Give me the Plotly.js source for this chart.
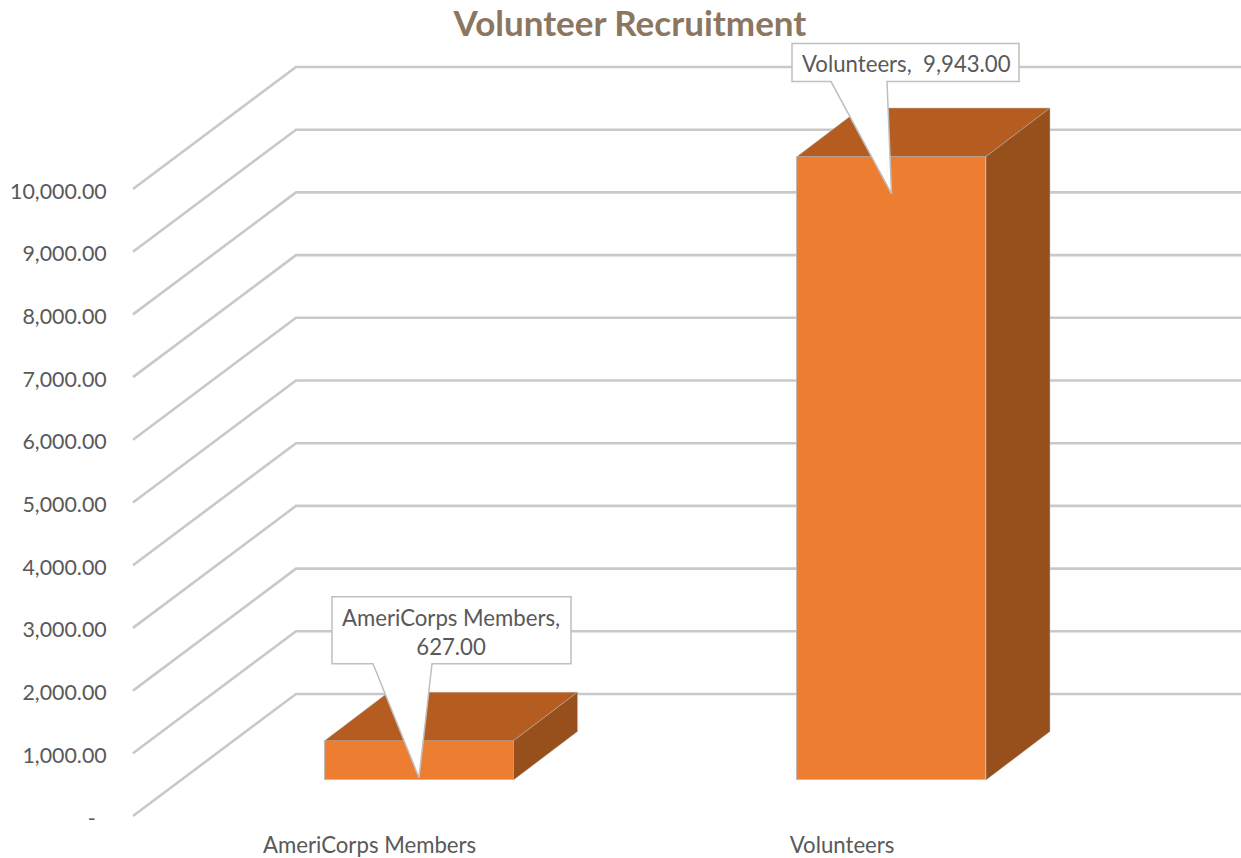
<!DOCTYPE html>
<html>
<head>
<meta charset="utf-8">
<script src="https://cdn.plot.ly/plotly-3.0.1.min.js"></script>
<style>html,body{margin:0;padding:0;background:#fff;overflow:hidden}#chart{width:1241px;height:858px}</style>
</head>
<body>
<div id="chart"></div>
<script>
// Chart data
const categories = ['AmeriCorps Members', 'Volunteers'];
const values = [627, 9943];
const tickValues = [0, 1000, 2000, 3000, 4000, 5000, 6000, 7000, 8000, 9000, 10000];
const tickLabels = ['-\u00A0\u00A0', '1,000.00', '2,000.00', '3,000.00', '4,000.00', '5,000.00',
  '6,000.00', '7,000.00', '8,000.00', '9,000.00', '10,000.00'];

// Oblique projection of the 3-D column chart, in axis units
const PX_X = 472.5;          // pixels per category
const PX_Y = 0.0627;         // pixels per value unit
const xRange = [-(369.6 - 120) / PX_X, (1241 - 369.6) / PX_X];
const yRange = [-8 / PX_Y, 786 / PX_Y];
const WALL_DX = 163 / PX_X, WALL_DY = 122 / PX_Y;    // floor depth
const FRONT_DX = 49.4 / PX_X, FRONT_DY = 36 / PX_Y;  // floor front to bar front
const BAR_DX = 64 / PX_X, BAR_DY = 48.5 / PX_Y;      // bar depth
const BAR_W = 189 / PX_X;
const x0 = -0.5 + (133 - 369.6 + 236.25) / PX_X;

const barX = categories.map((c, i) => i + FRONT_DX);
const edge = 'rgba(185,185,185,0.8)';

// Back wall / floor gridlines, drawn under the bars
const gridShapes = tickValues.map(v => ({
  type: 'path', layer: 'below', xref: 'x', yref: 'y',
  path: `M ${x0} ${v} L ${x0 + WALL_DX} ${v + WALL_DY} L ${xRange[1]} ${v + WALL_DY}`,
  line: {color: '#c9c9c9', width: 2.6}
}));

// Top and side faces
const topX = [], topY = [], sideX = [], sideY = [];
values.forEach((v, i) => {
  const l = barX[i] - BAR_W / 2, r = barX[i] + BAR_W / 2, t = FRONT_DY + v, b = FRONT_DY;
  topX.push(l, r, r + BAR_DX, l + BAR_DX, l, null);
  topY.push(t, t, t + BAR_DY, t + BAR_DY, t, null);
  sideX.push(r, r + BAR_DX, r + BAR_DX, r, r, null);
  sideY.push(b, b + BAR_DY, t + BAR_DY, t, b, null);
});

const traces = [
  {type: 'bar', x: barX, y: values, base: values.map(() => FRONT_DY), width: BAR_W,
   marker: {color: '#ED7D31', line: {color: edge, width: 1}}, hoverinfo: 'skip', showlegend: false},
  {type: 'scatter', mode: 'lines', x: topX, y: topY, fill: 'toself', fillcolor: '#B55D21',
   line: {color: edge, width: 0.6}, hoverinfo: 'skip', showlegend: false},
  {type: 'scatter', mode: 'lines', x: sideX, y: sideY, fill: 'toself', fillcolor: '#97501C',
   line: {color: edge, width: 0.6}, hoverinfo: 'skip', showlegend: false}
];

// Data callouts: pixel outlines anchored at each bar's top
const calloutBox = [
  {l: -87, r: 152, t: 144, b: 77, p1: -46, p2: 13, tx: 31.5, ty: 108.5},
  {l: -99.5, r: 127.5, t: 113, b: 75, p1: -60.5, p2: -4.5, tx: 15, ty: 93}
];
const fmt = v => v.toLocaleString('en-US', {minimumFractionDigits: 2, maximumFractionDigits: 2});
const labelText = [
  `${categories[0]},<br>${fmt(values[0])}`,
  `${categories[1]},\u00A0\u00A0${fmt(values[1])}`
];
const calloutShapes = calloutBox.map((c, i) => ({
  type: 'path', layer: 'above', xref: 'x', yref: 'y',
  xsizemode: 'pixel', ysizemode: 'pixel',
  xanchor: barX[i], yanchor: FRONT_DY + values[i],
  path: `M ${c.l} ${c.t} L ${c.r} ${c.t} L ${c.r} ${c.b} L ${c.p2} ${c.b} L 0 -37 L ${c.p1} ${c.b} L ${c.l} ${c.b} Z`,
  fillcolor: '#ffffff', line: {color: '#bfbfbf', width: 1.5}
}));
const annotations = calloutBox.map((c, i) => ({
  x: barX[i], y: FRONT_DY + values[i], xref: 'x', yref: 'y',
  xshift: c.tx, yshift: c.ty, text: labelText[i], showarrow: false,
  align: 'center', xanchor: 'center', yanchor: 'middle',
  font: {family: 'Lato, sans-serif', size: 22.2, color: '#595959'}
}));

const layout = {
  width: 1241, height: 858,
  margin: {l: 120, r: 0, t: 30, b: 34, pad: 0},
  paper_bgcolor: '#ffffff', plot_bgcolor: 'rgba(0,0,0,0)',
  showlegend: false,
  title: {text: '<b>Volunteer Recruitment</b>', x: 630 / 1241, xanchor: 'center', xref: 'container',
    y: 1 - 24 / 858, yanchor: 'middle', yref: 'container',
    font: {family: 'Lato, sans-serif', size: 35, color: '#8B7660'}},
  xaxis: {range: xRange, tickmode: 'array', tickvals: categories.map((c, i) => i), ticktext: categories,
    showgrid: false, zeroline: false, showline: false, ticks: '', automargin: false, fixedrange: true,
    ticklabelstandoff: 6,
    tickfont: {family: 'Lato, sans-serif', size: 22.2, color: '#595959'}},
  yaxis: {range: yRange, tickmode: 'array', tickvals: tickValues, ticktext: tickLabels,
    showgrid: false, zeroline: false, showline: false, ticks: 'outside', ticklen: 8, tickcolor: 'rgba(0,0,0,0)',
    automargin: false, fixedrange: true, ticklabelshift: 2,
    tickfont: {family: 'Lato, sans-serif', size: 21.4, color: '#595959'}},
  shapes: gridShapes.concat(calloutShapes),
  annotations: annotations,
  bargap: 0
};
Plotly.newPlot('chart', traces, layout, {displayModeBar: false, responsive: false});
</script>
</body>
</html>
